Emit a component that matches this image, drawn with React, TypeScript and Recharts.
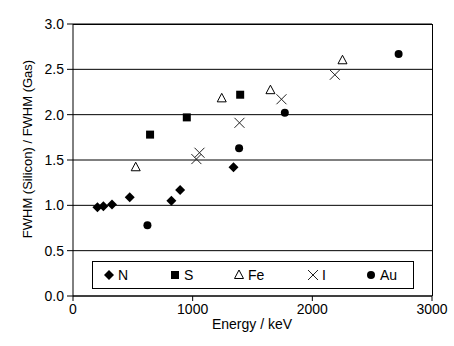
import React from "react"
import { ScatterChart, Scatter, XAxis, YAxis, CartesianGrid, ReferenceLine } from "recharts"

const nEnergy = [204, 254, 326, 474, 822, 895, 1341]
const nRatio = [0.98, 0.99, 1.01, 1.09, 1.05, 1.17, 1.42]
const sEnergy = [644, 951, 1397]
const sRatio = [1.78, 1.97, 2.22]
const feEnergy = [524, 1243, 1650, 2252]
const feRatio = [1.42, 2.18, 2.27, 2.6]
const iEnergy = [1031, 1057, 1391, 1742, 2188]
const iRatio = [1.51, 1.58, 1.91, 2.17, 2.44]
const auEnergy = [622, 1388, 1770, 2721]
const auRatio = [0.78, 1.63, 2.02, 2.67]

const xTicks = [0, 1000, 2000, 3000]
const yTicks = [0, 0.5, 1, 1.5, 2, 2.5, 3]
const seriesNames = ["N", "S", "Fe", "I", "Au"]

const pts = (xs: number[], ys: number[]) => xs.map((x, i) => ({ x, y: ys[i] }))

const FONT = "'Liberation Sans', Arial, sans-serif"

function Mark({ kind, cx, cy }: { kind: string; cx: number; cy: number }) {
  switch (kind) {
    case "N":
      return <polygon points={`${cx},${cy - 5} ${cx + 5},${cy} ${cx},${cy + 5} ${cx - 5},${cy}`} fill="#000" />
    case "S":
      return <rect x={cx - 4} y={cy - 4} width={8} height={8} fill="#000" />
    case "Fe":
      return (
        <polygon
          points={`${cx},${cy - 5} ${cx + 4.5},${cy + 3.5} ${cx - 4.5},${cy + 3.5}`}
          fill="#fff"
          stroke="#000"
          strokeWidth={1}
        />
      )
    case "I":
      return (
        <g stroke="#222" strokeWidth={1}>
          <line x1={cx - 5} y1={cy - 5} x2={cx + 5} y2={cy + 5} />
          <line x1={cx - 5} y1={cy + 5} x2={cx + 5} y2={cy - 5} />
        </g>
      )
    default:
      return <circle cx={cx} cy={cy} r={4} fill="#000" />
  }
}

const shapeFor = (kind: string) => (props: any) => <Mark kind={kind} cx={props.cx} cy={props.cy} />

function LegendBox() {
  const itemX = [36, 102, 166, 240, 298]
  return (
    <svg width={322} height={28} style={{ display: "block" }}>
      <rect x={0.5} y={0.5} width={321} height={27} fill="#fff" stroke="#000" />
      {seriesNames.map((name, i) => (
        <g key={name}>
          <Mark kind={name} cx={itemX[i] - 19} cy={14} />
          <text x={itemX[i] - 10} y={19} fontSize={14} fontFamily={FONT} fill="#000">
            {name}
          </text>
        </g>
      ))}
    </svg>
  )
}

export default function App() {
  return (
    <div style={{ position: "absolute", left: 0, top: 0, width: 454, height: 346, background: "#fff", fontFamily: FONT }}>
      <ScatterChart width={454} height={346} margin={{ top: 24, right: 22, bottom: 0, left: 0 }}>
        <CartesianGrid
          horizontal={{ shapeRendering: "crispEdges" } as any}
          vertical={false}
          stroke="#000"
        />
        <XAxis
          type="number"
          dataKey="x"
          domain={[0, 3000]}
          ticks={xTicks}
          height={50}
          tickSize={5}
          tickMargin={3}
          stroke="#000"
          tick={{ fontSize: 14, fill: "#000", fontFamily: FONT }}
          label={{
            content: () => (
              <text x={252} y={329} textAnchor="middle" fontSize={14} fontFamily={FONT} fill="#000">
                Energy / keV
              </text>
            ),
          }}
        />
        <YAxis
          type="number"
          dataKey="y"
          domain={[0, 3]}
          ticks={yTicks}
          width={73}
          tickSize={6}
          tickMargin={3}
          stroke="#000"
          tickFormatter={(v: number) => v.toFixed(1)}
          tick={{ fontSize: 14, fill: "#000", fontFamily: FONT }}
          label={{
            content: () => (
              <text
                x={32}
                y={149}
                transform="rotate(-90 32 149)"
                textAnchor="middle"
                fontSize={13}
                fontFamily={FONT}
                fill="#000"
              >
                FWHM (Silicon) / FWHM (Gas)
              </text>
            ),
          }}
        />
        <ReferenceLine x={3000} stroke="#000" shapeRendering="crispEdges" />
        <ReferenceLine y={3} stroke="#000" shapeRendering="crispEdges" />
        <Scatter name="N" data={pts(nEnergy, nRatio)} shape={shapeFor("N")} isAnimationActive={false} />
        <Scatter name="S" data={pts(sEnergy, sRatio)} shape={shapeFor("S")} isAnimationActive={false} />
        <Scatter name="Fe" data={pts(feEnergy, feRatio)} shape={shapeFor("Fe")} isAnimationActive={false} />
        <Scatter name="I" data={pts(iEnergy, iRatio)} shape={shapeFor("I")} isAnimationActive={false} />
        <Scatter name="Au" data={pts(auEnergy, auRatio)} shape={shapeFor("Au")} isAnimationActive={false} />
      </ScatterChart>
      <div style={{ position: "absolute", left: 92, top: 261 }}>
        <LegendBox />
      </div>
    </div>
  )
}
